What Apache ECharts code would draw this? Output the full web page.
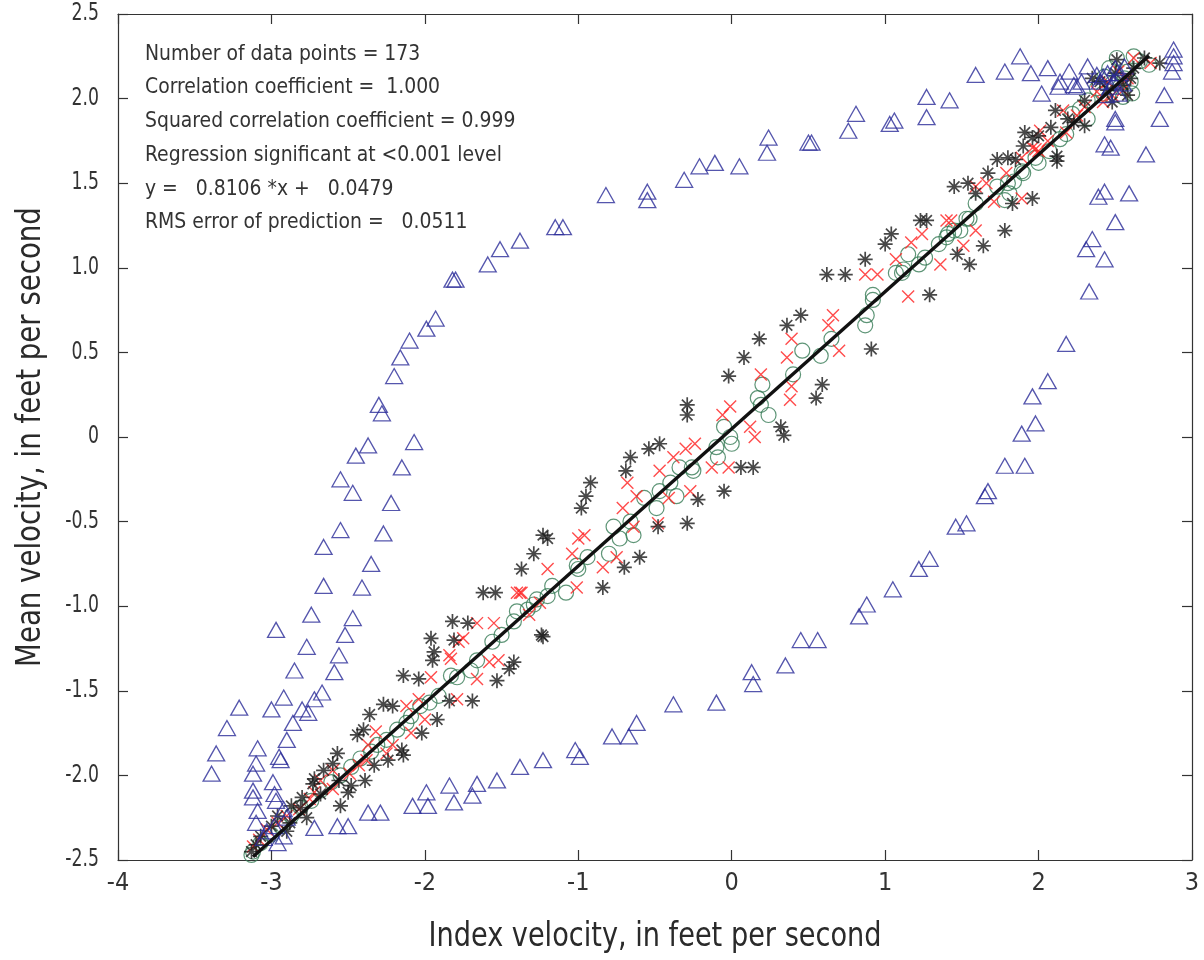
<!DOCTYPE html>
<html>
<head>
<meta charset="utf-8">
<script src="https://cdn.jsdelivr.net/npm/echarts@6/dist/echarts.min.js"></script>
<style>
  html, body { margin: 0; padding: 0; background: #ffffff; }
  #chart { width: 1204px; height: 960px; }
</style>
</head>
<body>
<div id="chart"></div>
<script>
// Index velocity vs. mean velocity rating, four measurement sets plus the fitted line.
const FONT = "'DejaVu Sans Condensed', 'Liberation Sans Narrow', 'DejaVu Sans', sans-serif";

// Axis extents and tick values
const xRange = [-4, 3];
const yRange = [-2.5, 2.5];
const xStep = 1;
const yStep = 0.5;
const yTickVals = [-2.5, -2.0, -1.5, -1.0, -0.5, 0, 0.5, 1.0, 1.5, 2.0, 2.5];
const yTickText = ['-2.5', '-2.0', '-1.5', '-1.0', '-0.5', '0', '0.5', '1.0', '1.5', '2.0', '2.5'];

const xTitle = 'Index velocity, in feet per second';
const yTitle = 'Mean velocity, in feet per second';

// Regression statistics shown in the annotation block
const statLines = [
  'Number of data points = 173',
  'Correlation coefficient =  1.000',
  'Squared correlation coefficient = 0.999',
  'Regression significant at <0.001 level',
  'y =   0.8106 *x +   0.0479',
  'RMS error of prediction =   0.0511'
];
const slope = 0.8106;
const intercept = 0.0479;
const fitXRange = [-3.12, 2.72];

// Open triangles (blue)
const trianglePts = [
  [-1.93,0.70],[-1.99,0.64],[-2.10,0.57],[-2.16,0.47],[-2.20,0.36],[-2.30,0.19],[-2.28,0.14],
  [-2.37,-0.05],[-2.07,-0.03],[-2.45,-0.11],[-2.15,-0.18],[-2.55,-0.25],[-2.47,-0.33],[-2.22,-0.39],
  [-2.55,-0.55],[-2.27,-0.57],[-2.66,-0.65],[-2.35,-0.75],[-2.66,-0.88],[-2.41,-0.89],[-2.74,-1.05],
  [-2.47,-1.07],[-2.97,-1.14],[-2.52,-1.17],[-2.77,-1.24],[-2.56,-1.29],[-2.85,-1.38],[-2.59,-1.39],
  [-2.67,-1.51],[-2.92,-1.54],[-2.72,-1.55],[-3.21,-1.60],[-3.00,-1.61],[-2.80,-1.61],[-2.76,-1.63],
  [-2.86,-1.69],[-3.29,-1.72],[-2.90,-1.79],[-3.36,-1.87],[-3.09,-1.84],[-2.95,-1.89],[-2.94,-1.91],
  [-3.10,-1.93],[-3.39,-1.99],[-3.12,-1.99],[-2.99,-2.04],[-3.12,-2.09],[-2.98,-2.11],[-3.12,-2.13],
  [-2.97,-2.15],[-3.09,-2.21],[-2.92,-2.20],[-3.10,-2.28],[-2.90,-2.25],[-3.03,-2.33],[-2.92,-2.36],
  [-2.96,-2.40],[-3.05,-2.37],[-2.98,-2.30],
  [-2.72,-2.31],[-2.57,-2.30],[-2.50,-2.30],[-2.37,-2.22],[-2.29,-2.22],[-2.08,-2.18],[-1.98,-2.18],
  [-1.99,-2.10],[-1.84,-2.06],[-1.81,-2.16],[-1.69,-2.12],[-1.66,-2.05],[-1.53,-2.03],[-1.38,-1.95],
  [-1.23,-1.91],[-1.02,-1.85],[-0.99,-1.89],[-0.78,-1.77],[-0.67,-1.77],[-0.62,-1.69],[-0.38,-1.58],
  [-0.10,-1.57],[0.13,-1.39],[0.14,-1.46],[0.35,-1.35],[0.45,-1.20],[0.56,-1.20],[0.83,-1.06],
  [0.88,-0.99],[1.05,-0.90],[1.22,-0.78],[1.29,-0.72],[1.46,-0.53],[1.53,-0.51],[1.65,-0.35],
  [1.67,-0.32],[1.78,-0.17],[1.91,-0.17],[1.89,0.02],[1.98,0.08],[1.96,0.24],[2.06,0.33],
  [2.18,0.55],[2.33,0.86],[2.31,1.11],[2.35,1.17],[2.43,1.05],[2.50,1.27],[2.39,1.42],[2.43,1.45],
  [2.59,1.44],[2.43,1.73],[2.47,1.71],[2.50,1.88],[2.50,1.86],[2.70,1.67],[2.79,1.88],[2.82,2.02],
  [2.87,2.16],[2.88,2.21],[2.88,2.25],[2.88,2.29],
  [-1.80,0.93],[-1.82,0.93],[-1.59,1.02],[-1.51,1.11],[-1.38,1.16],[-1.15,1.24],[-1.10,1.24],
  [-0.82,1.43],[-0.55,1.45],[-0.55,1.40],[-0.31,1.52],[-0.21,1.60],[-0.11,1.62],[0.05,1.60],
  [0.23,1.68],[0.24,1.77],[0.50,1.74],[0.52,1.74],[0.76,1.81],[0.81,1.91],[1.03,1.85],[1.06,1.87],
  [1.27,2.01],[1.27,1.89],[1.42,1.99],[1.59,2.14],[1.78,2.16],[1.88,2.25],[1.95,2.15],[2.06,2.18],
  [2.02,2.03],[2.13,2.07],[2.14,2.10],[2.20,2.16],[2.23,2.08],[2.25,2.07],[2.28,2.10],[2.32,2.19],
  [2.38,2.14],[2.42,2.13],[2.45,2.15],[2.50,2.18],[2.53,2.15],[2.49,2.10],[2.44,2.02],[2.52,2.03],
  [2.56,2.19],[2.40,2.10],[2.47,2.07],[2.55,2.09]
];

// Open circles (green)
const circlePts = [
  [-3.13,-2.47],[-3.12,-2.45],[-3.07,-2.40],[-3.00,-2.35],[-2.94,-2.30],[-2.87,-2.24],[-2.81,-2.19],
  [-2.74,-2.15],[-2.68,-2.09],[-2.61,-2.04],[-2.55,-2.00],[-2.48,-1.95],[-2.42,-1.90],[-2.35,-1.86],
  [-2.31,-1.82],[-2.25,-1.79],[-2.18,-1.73],[-2.12,-1.69],[-2.09,-1.65],[-2.03,-1.59],[-1.97,-1.57],
  [-1.91,-1.53],[-1.83,-1.41],[-1.79,-1.42],[-1.70,-1.38],[-1.66,-1.32],[-1.56,-1.21],[-1.50,-1.17],
  [-1.42,-1.09],[-1.40,-1.03],[-1.33,-1.02],[-1.29,-0.99],
  [-1.27,-0.96],[-1.20,-0.94],[-1.17,-0.88],[-1.08,-0.92],[-1.00,-0.78],[-1.01,-0.76],[-0.94,-0.71],
  [-0.80,-0.69],[-0.73,-0.60],[-0.64,-0.58],[-0.77,-0.53],[-0.66,-0.50],[-0.49,-0.42],[-0.57,-0.36],
  [-0.36,-0.35],[-0.47,-0.32],[-0.40,-0.27],[-0.25,-0.20],[-0.34,-0.18],[-0.26,-0.18],[-0.09,-0.12],
  [-0.10,-0.06],[0.00,-0.04],[-0.01,0.00],[-0.05,0.06],[0.24,0.13],[0.19,0.19],[0.17,0.23],
  [0.20,0.31],[0.40,0.37],[0.46,0.51],[0.58,0.48],[0.65,0.58],[0.87,0.66],[0.88,0.72],[0.92,0.81],
  [0.92,0.84],[1.07,0.97],[1.11,0.97],[1.12,0.99],[1.15,1.08],[1.22,1.02],[1.26,1.06],[1.35,1.14],
  [1.40,1.18],[1.41,1.20],[1.45,1.22],[1.49,1.22],[1.53,1.29],[1.55,1.29],[1.59,1.38],[1.78,1.40],
  [1.73,1.48],[1.80,1.50],[1.84,1.51],[1.81,1.44],[1.89,1.57],[1.90,1.56],[1.98,1.65],[2.00,1.62],
  [2.07,1.69],[2.14,1.76],[2.18,1.79],[2.22,1.91],[2.32,1.88],[2.27,1.94],[2.32,1.99],[2.42,2.03],
  [2.53,2.07],[2.61,2.03],[2.51,2.24],[2.62,2.25],[2.72,2.20],[2.43,2.13],[2.48,2.09],[2.56,2.12],
  [2.58,2.16],[2.46,2.18],[2.38,2.06],[2.55,2.01],[2.66,2.22],[2.60,2.10]
];

// Crosses (red)
const crossPts = [
  [-3.12,-2.42],[-3.08,-2.38],[-3.03,-2.32],[-2.96,-2.28],[-2.90,-2.24],[-2.82,-2.20],[-2.75,-2.14],
  [-2.72,-2.10],[-2.60,-2.08],[-2.68,-2.03],[-2.60,-1.97],[-2.49,-1.99],[-2.43,-1.94],[-2.38,-1.91],
  [-2.25,-1.87],[-2.37,-1.82],[-2.21,-1.82],[-2.32,-1.74],[-2.09,-1.75],[-2.00,-1.67],[-2.12,-1.59],
  [-1.79,-1.55],[-2.04,-1.55],[-1.66,-1.43],[-1.96,-1.42],[-1.58,-1.33],[-1.52,-1.32],[-1.83,-1.31],
  [-1.84,-1.29],[-1.78,-1.21],[-1.75,-1.19],[-1.55,-1.10],[-1.66,-1.10],[-1.40,-0.92],[-1.32,-1.05],
  [-1.25,-0.98],
  [-1.38,-0.92],[-1.37,-0.92],[-1.20,-0.78],[-1.01,-0.89],[-0.84,-0.77],[-0.75,-0.71],[-1.04,-0.69],
  [-1.00,-0.60],[-0.96,-0.58],[-0.64,-0.53],[-0.48,-0.51],[-0.71,-0.42],[-0.41,-0.36],[-0.27,-0.32],
  [-0.62,-0.35],[-0.68,-0.27],[-0.47,-0.20],[-0.02,-0.18],[-0.13,-0.18],[-0.38,-0.12],[-0.30,-0.07],
  [-0.24,-0.04],[0.15,0.00],[0.12,0.06],[-0.06,0.13],[-0.01,0.18],[0.38,0.22],[0.39,0.30],[0.19,0.37],
  [0.70,0.51],[0.36,0.47],[0.39,0.58],[0.63,0.66],[0.66,0.72],
  [0.87,0.96],[0.95,0.96],[1.15,0.83],[1.07,1.05],[1.17,1.15],[1.24,1.20],[1.36,1.02],[1.40,1.28],
  [1.43,1.28],[1.51,1.13],[1.59,1.22],[1.89,1.41],[1.71,1.39],[1.59,1.48],[1.66,1.50],[1.79,1.56],
  [1.89,1.65],[1.98,1.70],[2.01,1.81],[1.96,1.71],[2.00,1.69],[2.06,1.75],[2.18,1.80],[2.16,1.93],
  [2.25,1.90],[2.30,1.95],[2.42,1.98],[2.62,2.24],[2.73,2.21],[2.45,2.10],[2.52,2.16],[2.55,2.05],
  [2.38,2.04],[2.58,2.12],[2.48,2.02]
];

// Asterisks (black)
const starPts = [
  [-3.13,-2.45],[-3.10,-2.41],[-3.07,-2.36],[-3.00,-2.30],[-2.96,-2.24],[-2.90,-2.33],[-2.88,-2.28],
  [-2.87,-2.18],[-2.81,-2.19],[-2.80,-2.13],[-2.77,-2.25],[-2.68,-2.11],[-2.73,-2.05],[-2.72,-2.02],
  [-2.55,-2.18],[-2.50,-2.10],[-2.48,-2.06],[-2.56,-2.03],[-2.39,-2.03],[-2.66,-1.97],[-2.60,-1.93],
  [-2.57,-1.87],[-2.33,-1.94],[-2.24,-1.91],[-2.14,-1.88],[-2.15,-1.85],[-2.44,-1.76],[-2.40,-1.73],
  [-2.02,-1.75],[-1.92,-1.67],[-2.36,-1.64],[-2.21,-1.59],[-2.27,-1.58],[-1.84,-1.56],[-1.69,-1.56],
  [-1.53,-1.44],[-2.04,-1.43],[-2.14,-1.41],[-1.45,-1.37],[-1.42,-1.33],[-1.95,-1.32],[-1.94,-1.27],
  [-1.81,-1.20],[-1.96,-1.19],[-1.72,-1.10],[-1.82,-1.09],[-1.62,-0.92],[-1.54,-0.92],[-1.24,-1.17],
  [-1.23,-1.18],
  [-1.37,-0.78],[-1.29,-0.69],[-1.23,-0.58],[-1.20,-0.60],[-0.84,-0.89],[-0.70,-0.77],[-0.60,-0.71],
  [-0.48,-0.53],[-0.29,-0.51],[-0.98,-0.42],[-0.95,-0.35],[-0.92,-0.27],[-0.22,-0.37],[-0.05,-0.32],
  [-0.69,-0.20],[0.06,-0.18],[0.14,-0.18],[-0.66,-0.12],[-0.54,-0.07],[-0.47,-0.04],[0.32,0.06],
  [0.34,0.01],[-0.29,0.19],[-0.29,0.13],[-0.02,0.36],[0.55,0.23],[0.59,0.31],[0.08,0.47],[0.91,0.52],
  [0.18,0.58],[0.36,0.66],[0.45,0.72],
  [0.62,0.96],[0.74,0.96],[0.87,1.05],[1.29,0.84],[1.00,1.14],[1.04,1.20],[1.23,1.28],[1.27,1.28],
  [1.47,1.08],[1.55,1.02],[1.64,1.13],[1.78,1.22],[1.45,1.48],[1.54,1.50],[1.59,1.44],[1.83,1.38],
  [1.96,1.41],[1.67,1.56],[1.73,1.64],[1.80,1.65],[1.85,1.64],[1.90,1.72],[1.91,1.80],[1.96,1.77],
  [2.00,1.78],[2.08,1.83],[2.11,1.93],[2.19,1.88],[2.23,1.86],[2.30,1.84],[2.12,1.66],[2.12,1.63],
  [2.30,1.99],[2.51,2.23],[2.69,2.24],[2.79,2.21],[2.40,2.10],[2.45,2.05],[2.55,2.08],[2.50,2.15],
  [2.60,2.12],[2.35,2.12],[2.58,2.02],[2.62,2.18],[2.48,1.98]
];

// Fitted line endpoints from the stated equation
const fitLine = fitXRange.map(x => [x, slope * x + intercept]);

const TRI_COLOR = '#2a2c98';
const CIRCLE_COLOR = '#367a55';
const CROSS_COLOR = '#ff1f1f';
const STAR_COLOR = '#1a1a1a';
const AXIS_COLOR = '#333333';
const TEXT_COLOR = '#333333';

const STAR_PATH = 'path://M5,0L5,10M0,5L10,5M1.46,1.46L8.54,8.54M8.54,1.46L1.46,8.54';
const CROSS_PATH = 'path://M0,0L10,10M10,0L0,10';

const chart = echarts.init(document.getElementById('chart'), null, { renderer: 'canvas' });

const gridBox = { left: 118, right: 12, top: 14, bottom: 100 };

function axisCommon(extra) {
  return Object.assign({
    type: 'value',
    axisLine: { show: true, onZero: false, lineStyle: { color: AXIS_COLOR, width: 1.2 } },
    axisTick: { show: true, inside: true, length: 10, lineStyle: { color: AXIS_COLOR, width: 1.2 } },
    splitLine: { show: false }
  }, extra);
}

chart.setOption({
  animation: false,
  backgroundColor: '#ffffff',
  grid: Object.assign({ show: false, containLabel: false }, gridBox),
  xAxis: [
    axisCommon({
      position: 'bottom', min: xRange[0], max: xRange[1], interval: xStep,
      axisLabel: { margin: 11, fontFamily: FONT, fontSize: 25, color: TEXT_COLOR }
    }),
    axisCommon({
      position: 'top', min: xRange[0], max: xRange[1], interval: xStep,
      axisLabel: { show: false }
    })
  ],
  yAxis: [
    axisCommon({
      position: 'left', min: yRange[0], max: yRange[1], interval: yStep,
      axisLabel: { show: false }
    }),
    axisCommon({
      position: 'right', min: yRange[0], max: yRange[1], interval: yStep,
      axisLabel: { show: false }
    })
  ],
  series: [
    {
      type: 'scatter', name: 'circles', data: circlePts,
      symbol: 'circle', symbolSize: 15,
      itemStyle: { color: 'rgba(0,0,0,0)', borderColor: CIRCLE_COLOR, borderWidth: 1.2 },
      emphasis: { disabled: true }
    },
    {
      type: 'scatter', name: 'crosses', data: crossPts,
      symbol: CROSS_PATH, symbolSize: 12,
      itemStyle: { color: 'rgba(0,0,0,0)', borderColor: CROSS_COLOR, borderWidth: 1.4 },
      emphasis: { disabled: true }
    },
    {
      type: 'scatter', name: 'stars', data: starPts,
      symbol: STAR_PATH, symbolSize: 15,
      itemStyle: { color: 'rgba(0,0,0,0)', borderColor: STAR_COLOR, borderWidth: 1.7 },
      emphasis: { disabled: true }
    },
    {
      type: 'scatter', name: 'triangles', data: trianglePts,
      symbol: 'triangle', symbolSize: [17, 15],
      itemStyle: { color: 'rgba(0,0,0,0)', borderColor: TRI_COLOR, borderWidth: 1.3 },
      emphasis: { disabled: true }
    },
    {
      type: 'line', name: 'fit', data: fitLine,
      symbol: 'none',
      lineStyle: { color: '#111111', width: 3.4 },
      emphasis: { disabled: true }
    }
  ]
});

// Text elements placed from the axes' own pixel mapping (condensed via scaleX).
const leftPx = chart.convertToPixel({ xAxisIndex: 0 }, xRange[0]);
const rightPx = chart.convertToPixel({ xAxisIndex: 0 }, xRange[1]);
const topPx = chart.convertToPixel({ yAxisIndex: 0 }, yRange[1]);
const bottomPx = chart.convertToPixel({ yAxisIndex: 0 }, yRange[0]);

const graphics = [];

yTickVals.forEach((v, i) => {
  graphics.push({
    type: 'text',
    x: leftPx - 19,
    y: chart.convertToPixel({ yAxisIndex: 0 }, v),
    scaleX: 0.8,
    style: {
      text: yTickText[i], fill: TEXT_COLOR,
      font: '24px ' + FONT, align: 'right', verticalAlign: 'middle'
    }
  });
});

statLines.forEach((line, i) => {
  graphics.push({
    type: 'text',
    x: leftPx + 27,
    y: 54 + i * 33.7,
    scaleX: 0.95,
    style: {
      text: line, fill: TEXT_COLOR,
      font: '22px ' + FONT, align: 'left', verticalAlign: 'middle'
    }
  });
});

graphics.push({
  type: 'text',
  x: (leftPx + rightPx) / 2,
  y: bottomPx + 77,
  scaleX: 0.915,
  style: {
    text: xTitle, fill: '#2a2a2a',
    font: '33px ' + FONT, align: 'center', verticalAlign: 'middle'
  }
});

graphics.push({
  type: 'text',
  x: 31,
  y: (topPx + bottomPx) / 2,
  rotation: Math.PI / 2,
  scaleX: 0.93,
  style: {
    text: yTitle, fill: '#2a2a2a',
    font: '33px ' + FONT, align: 'center', verticalAlign: 'middle'
  }
});

chart.setOption({ graphic: graphics });
</script>
</body>
</html>
